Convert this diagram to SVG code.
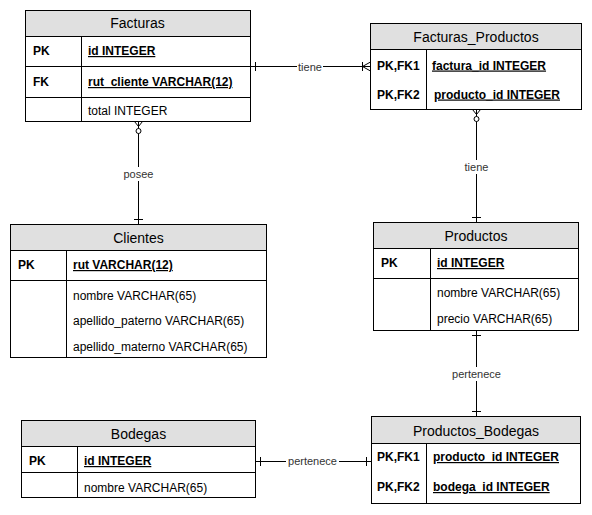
<svg xmlns="http://www.w3.org/2000/svg" width="592" height="515" viewBox="0 0 592 515">
  <style>
    .box { fill: #ffffff; stroke: #000000; stroke-width: 1; }
    .head { fill: #e0e0e0; stroke: none; }
    .rule { stroke: #000000; stroke-width: 1; fill: none; }
    .title { font-family: "Liberation Sans", Arial, sans-serif; font-size: 14px; fill: #000000; text-anchor: middle; }
    .key { font-family: "Liberation Sans", Arial, sans-serif; font-size: 12px; font-weight: bold; fill: #000000; }
    .pk { font-family: "Liberation Sans", Arial, sans-serif; font-size: 12px; font-weight: bold; fill: #000000; text-decoration: underline; }
    .col { font-family: "Liberation Sans", Arial, sans-serif; font-size: 12px; fill: #000000; }
    .link { stroke: #000000; stroke-width: 1; fill: none; }
    .lbl-bg { fill: #ffffff; }
    .lbl { font-family: "Liberation Sans", Arial, sans-serif; font-size: 11px; fill: #333333; text-anchor: middle; }
  </style>
  <defs>
    <!-- exactly one: single bar just off the entity edge -->
    <marker id="one" markerUnits="userSpaceOnUse" markerWidth="20" markerHeight="20" viewBox="-15 -10 20 20" refX="0" refY="0" orient="auto-start-reverse" overflow="visible">
      <path d="M-5,-4.5 L-5,4.5" stroke="#000" stroke-width="1" fill="none"/>
    </marker>
    <!-- zero or many: crow's foot plus open circle -->
    <marker id="zeroMany" markerUnits="userSpaceOnUse" markerWidth="20" markerHeight="20" viewBox="-15 -10 20 20" refX="0" refY="0" orient="auto-start-reverse" overflow="visible">
      <path d="M0,-4 L-5,0 L0,4" stroke="#000" stroke-width="1" fill="none"/>
      <circle cx="-9.5" cy="0" r="2.5" fill="#fff" stroke="#000" stroke-width="1"/>
    </marker>
    <!-- one or many: bar plus crow's foot -->
    <marker id="oneMany" markerUnits="userSpaceOnUse" markerWidth="20" markerHeight="20" viewBox="-15 -10 20 20" refX="0" refY="0" orient="auto-start-reverse" overflow="visible">
      <path d="M-8,-4.5 L-8,4.5 M0,-4.5 L-8,0 L0,4.5" stroke="#000" stroke-width="1" fill="none"/>
    </marker>
  </defs>

  <g id="connectors">
    <path class="link" d="M250.5,66.5 L370.5,66.5" marker-start="url(#one)" marker-end="url(#oneMany)"/>
    <path class="link" d="M138.5,121.5 L138.5,224.5" marker-start="url(#zeroMany)" marker-end="url(#one)"/>
    <path class="link" d="M476.5,109.5 L476.5,222.5" marker-start="url(#zeroMany)" marker-end="url(#one)"/>
    <path class="link" d="M476.5,330.5 L476.5,416.5" marker-start="url(#one)" marker-end="url(#one)"/>
    <path class="link" d="M255.5,461.5 L371.5,461.5" marker-start="url(#one)" marker-end="url(#one)"/>
    <g id="labels">
      <rect class="lbl-bg" x="297" y="60" width="26" height="13"/>
      <text class="lbl" x="310" y="70.5">tiene</text>
      <rect class="lbl-bg" x="121" y="167" width="35" height="14"/>
      <text class="lbl" x="138.5" y="178">posee</text>
      <rect class="lbl-bg" x="463" y="160" width="27" height="14"/>
      <text class="lbl" x="476.5" y="171">tiene</text>
      <rect class="lbl-bg" x="450" y="367" width="53" height="14"/>
      <text class="lbl" x="476.5" y="378">pertenece</text>
      <rect class="lbl-bg" x="286" y="455" width="53" height="13"/>
      <text class="lbl" x="312.5" y="465">pertenece</text>
    </g>
  </g>

  <g id="Facturas">
    <rect class="box" x="25.5" y="10.5" width="225" height="111"/>
    <rect class="head" x="26" y="11" width="224" height="25"/>
    <path class="rule" d="M25.5,36.5 H250.5 M25.5,66.5 H250.5 M25.5,97.5 H250.5 M81.5,36.5 V121.5"/>
    <text class="title" x="137.5" y="28">Facturas</text>
    <text class="key" x="33" y="55">PK</text>
    <text class="pk" x="88" y="55">id INTEGER</text>
    <text class="key" x="33" y="86">FK</text>
    <text class="pk" x="88" y="86">rut_cliente VARCHAR(12)</text>
    <text class="col" x="88" y="115">total INTEGER</text>
  </g>

  <g id="Facturas_Productos">
    <rect class="box" x="370.5" y="23.5" width="211" height="86"/>
    <rect class="head" x="371" y="24" width="210" height="25"/>
    <path class="rule" d="M370.5,49.5 H581.5 M426.5,49.5 V109.5"/>
    <text class="title" x="476" y="42">Facturas_Productos</text>
    <text class="key" x="377" y="69.5">PK,FK1</text>
    <text class="pk" x="432" y="69.5">factura_id INTEGER</text>
    <text class="key" x="377" y="98.5">PK,FK2</text>
    <text class="pk" x="434" y="98.5">producto_id INTEGER</text>
  </g>

  <g id="Clientes">
    <rect class="box" x="10.5" y="224.5" width="256" height="133"/>
    <rect class="head" x="11" y="225" width="255" height="25"/>
    <path class="rule" d="M10.5,250.5 H266.5 M10.5,280.5 H266.5 M66.5,250.5 V357.5"/>
    <text class="title" x="138.5" y="243">Clientes</text>
    <text class="key" x="18" y="269">PK</text>
    <text class="pk" x="73" y="269">rut VARCHAR(12)</text>
    <text class="col" x="73" y="300">nombre VARCHAR(65)</text>
    <text class="col" x="73" y="325">apellido_paterno VARCHAR(65)</text>
    <text class="col" x="73" y="351">apellido_materno VARCHAR(65)</text>
  </g>

  <g id="Productos">
    <rect class="box" x="373.5" y="222.5" width="205" height="108"/>
    <rect class="head" x="374" y="223" width="204" height="25"/>
    <path class="rule" d="M373.5,248.5 H578.5 M373.5,278.5 H578.5 M430.5,248.5 V330.5"/>
    <text class="title" x="476" y="241">Productos</text>
    <text class="key" x="381" y="267">PK</text>
    <text class="pk" x="437" y="267">id INTEGER</text>
    <text class="col" x="437" y="297">nombre VARCHAR(65)</text>
    <text class="col" x="437" y="323">precio VARCHAR(65)</text>
  </g>

  <g id="Productos_Bodegas">
    <rect class="box" x="371.5" y="416.5" width="209" height="87"/>
    <rect class="head" x="372" y="417" width="208" height="26"/>
    <path class="rule" d="M371.5,443.5 H580.5 M426.5,443.5 V503.5"/>
    <text class="title" x="476" y="436">Productos_Bodegas</text>
    <text class="key" x="377" y="461">PK,FK1</text>
    <text class="pk" x="433" y="461">producto_id INTEGER</text>
    <text class="key" x="377" y="491">PK,FK2</text>
    <text class="pk" x="433" y="491">bodega_id INTEGER</text>
  </g>

  <g id="Bodegas">
    <rect class="box" x="21.5" y="420.5" width="234" height="77"/>
    <rect class="head" x="22" y="421" width="233" height="25"/>
    <path class="rule" d="M21.5,446.5 H255.5 M21.5,472.5 H255.5 M77.5,446.5 V497.5"/>
    <text class="title" x="138.5" y="439">Bodegas</text>
    <text class="key" x="29" y="465">PK</text>
    <text class="pk" x="84" y="465">id INTEGER</text>
    <text class="col" x="84" y="492">nombre VARCHAR(65)</text>
  </g>
</svg>
